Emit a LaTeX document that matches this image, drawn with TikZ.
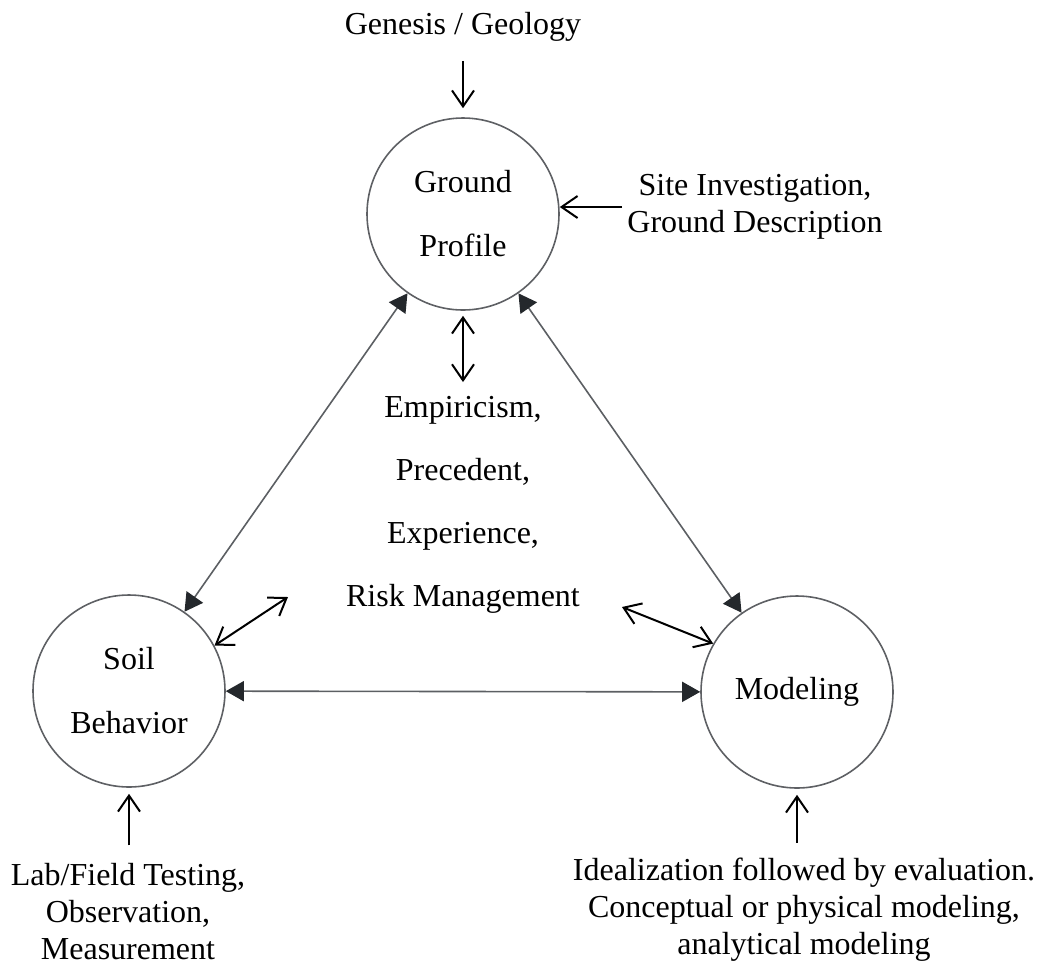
\documentclass[tikz,border=0pt]{standalone}
\usepackage{fontspec}
\setmainfont{Liberation Serif}
\usetikzlibrary{arrows.meta}

\definecolor{circgray}{HTML}{5E6064}
\definecolor{linkgray}{HTML}{5C5F63}
\definecolor{tipdark}{HTML}{24282C}

\tikzset{
  bubble/.style={circle, draw=circgray, line width=0.8pt, minimum size=96pt,
    inner sep=0pt, align=center, font=\fontsize{16}{32}\selectfont},
  note/.style={align=center, inner sep=0pt, font=\fontsize{16}{18.5}\selectfont},
  linkarrow/.style={draw=linkgray, line width=0.8pt,
    {Triangle[length=9pt,width=10pt,color=tipdark]}-{Triangle[length=9pt,width=10pt,color=tipdark]}},
  inarrow/.style={line width=1pt, -{Straight Barb[length=8pt,width=11pt]}},
  twoway/.style={line width=1pt, {Straight Barb[length=8pt,width=11pt]}-{Straight Barb[length=8pt,width=11pt]}}
}

\begin{document}
\begin{tikzpicture}[x=0.5pt,y=-0.5pt]
            \useasboundingbox (0,0) rectangle (1039,966);

            % Circles
            \node[bubble] (gp) at (463,214) {Ground\\Profile};
            \node[bubble] (sb) at (129,691) {Soil\\Behavior};
            \node[bubble] (mo) at (797,692) {Modeling};

            % Texts
            \node[note] (gen) at (463,27) {Genesis / Geology};
            \node[note] (site) at (755,207) {Site Investigation,\\Ground Description};
            \node[note, font=\fontsize{16}{31.5}\selectfont] (cen) at (463,505)
                {Empiricism,\\Precedent,\\Experience,\\Risk Management};
            \node[note] (lab) at (128,912) {Lab/Field Testing,\\Observation,\\Measurement};
            \node[note] (ideal) at (804,910)
                {Idealization followed by evaluation.\\Conceptual or physical modeling,\\analytical modeling};

            \coordinate (sbfree) at (288,597);
            \coordinate (mofree) at (622,607);

            % Links between circles
            \draw[linkarrow] (gp) -- (sb);
            \draw[linkarrow] (gp) -- (mo);
            \draw[linkarrow] (sb) -- (mo);

            % Inputs
            \draw[inarrow, shorten <=9.5pt, shorten >=4.5pt] (gen.south) -- (gp.north);
            \draw[inarrow, shorten <=2.5pt] (site.west) -- (site.west -| gp.east);
            \draw[inarrow, shorten <=9pt, shorten >=3pt] (lab.north -| sb.south) -- (sb.south);
            \draw[inarrow, shorten <=7.5pt, shorten >=3pt] (ideal.north -| mo.south) -- (mo.south);

            % Center
            \draw[twoway, shorten <=2.5pt, shorten >=7pt] (gp.south) -- (cen.north);
            \draw[twoway] (sb.28) -- (sbfree);
            \draw[twoway] (mo.150) -- (mofree);

        \end{tikzpicture}
\end{document}
